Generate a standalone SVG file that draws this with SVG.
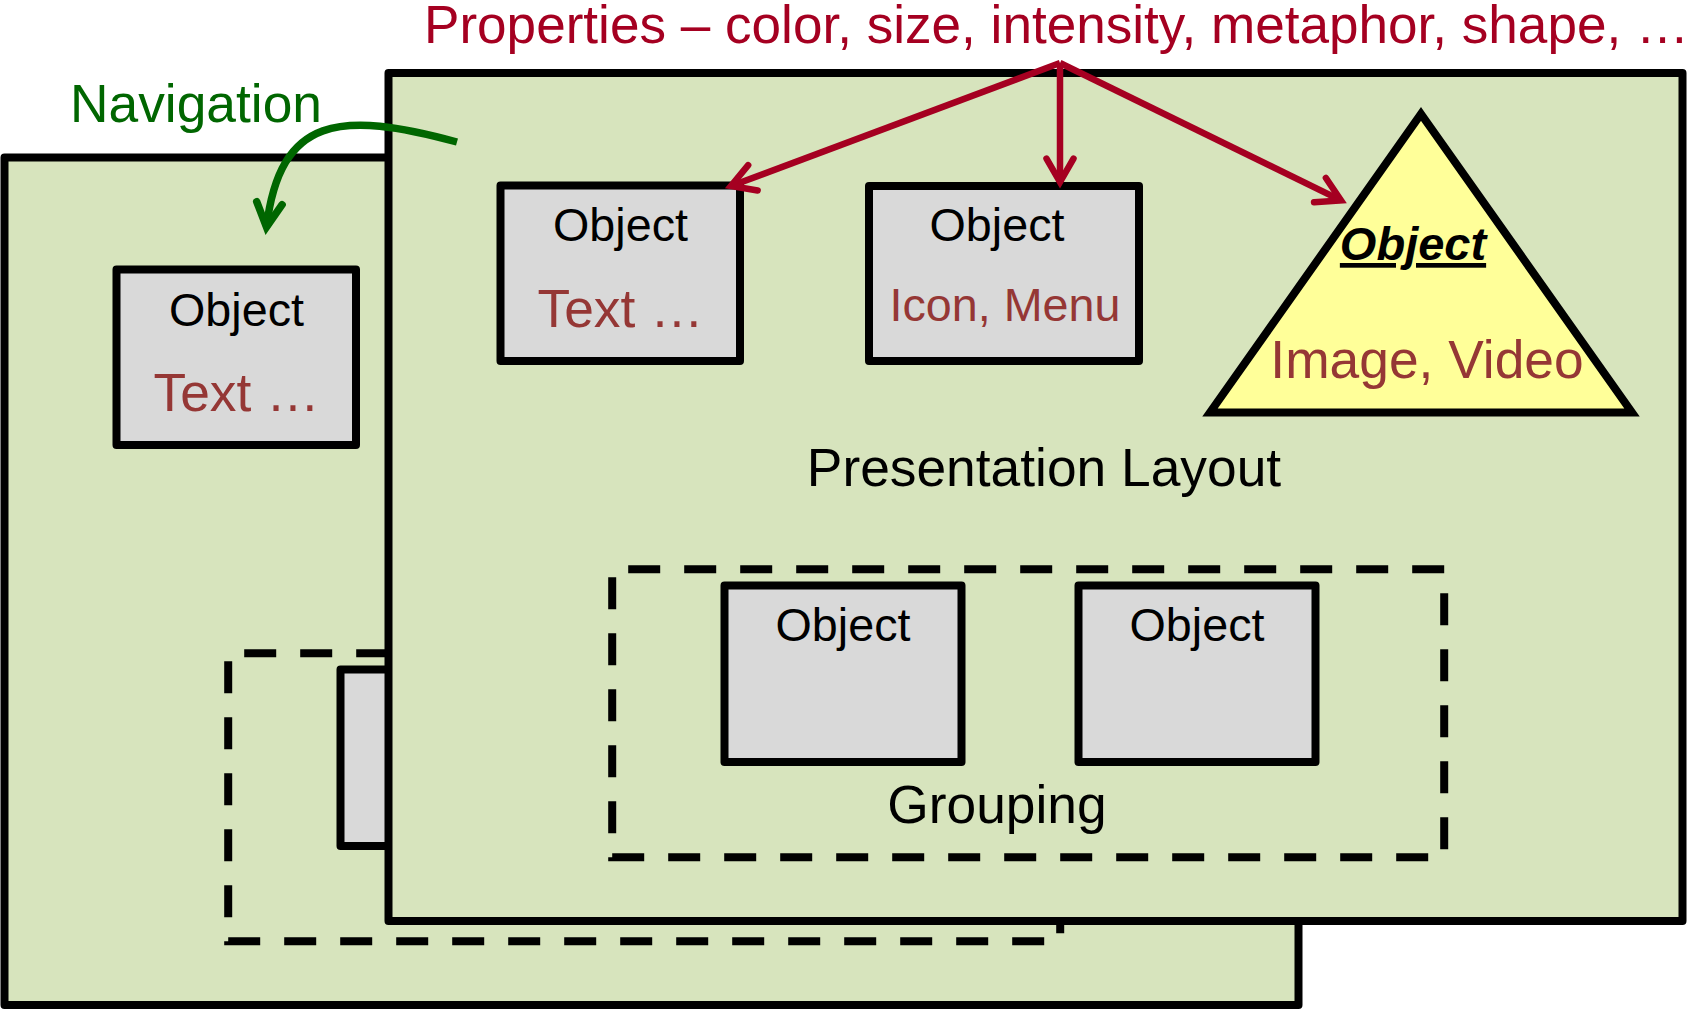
<svg xmlns="http://www.w3.org/2000/svg" width="1689" height="1009" viewBox="0 0 1689 1009">
<defs>
<style>
text{font-family:"Liberation Sans",Arial,sans-serif;}
.page{fill:#D7E4BD;stroke:#000;stroke-width:8;stroke-linejoin:round;}
.box{fill:#D9D9D9;stroke:#000;stroke-width:8;stroke-linejoin:round;}
.dash{fill:none;stroke:#000;stroke-width:8;stroke-dasharray:32 24;stroke-dashoffset:40;}
.obj{font-size:46.67px;fill:#000;text-anchor:middle;}
.sub{font-size:53.33px;fill:#953735;text-anchor:middle;}
.sub2{font-size:46.67px;fill:#953735;text-anchor:middle;}
.lbl{font-size:53.33px;fill:#000;text-anchor:middle;}
.red{fill:none;stroke:#A50021;stroke-width:6.5;}
.grn{fill:none;stroke:#006600;stroke-width:7.5;}
</style>
<marker id="ahRed" markerUnits="userSpaceOnUse" viewBox="-40 -25 50 50" markerWidth="50" markerHeight="50" refX="0" refY="0" orient="auto">
<path d="M-23.4,-13.5 L0,0 L-23.4,13.5" fill="none" stroke="#A50021" stroke-width="6.5" stroke-linecap="round" stroke-linejoin="miter"/>
</marker>
<marker id="ahGrn" markerUnits="userSpaceOnUse" viewBox="-40 -25 50 50" markerWidth="50" markerHeight="50" refX="0" refY="0" orient="auto">
<path d="M-24,-12.8 L0,0 L-24,12.8" fill="none" stroke="#006600" stroke-width="7.5" stroke-linecap="round" stroke-linejoin="miter"/>
</marker>
</defs>
<rect width="1689" height="1009" fill="#fff"/>

<g id="title">
<text x="424" y="43" style="font-size:53.1px;fill:#A50021;">Properties – color, size, intensity, metaphor, shape, …</text>
</g>
<g id="nav-label">
<text x="70" y="122" style="font-size:53.33px;fill:#006600;">Navigation</text>
</g>

<g id="back-page">
<rect class="page" x="4.5" y="157.5" width="1294" height="847.5"/>
<g id="back-object">
<rect class="box" x="116.5" y="269.5" width="239.5" height="175.5"/>
<text class="obj" x="236.5" y="325.5">Object</text>
<text class="sub" x="236.5" y="411">Text …</text>
</g>
<rect id="back-grouped-object" class="box" x="340.5" y="669.5" width="237" height="176.5"/>
<rect id="back-grouping" class="dash" x="228.2" y="653.2" width="832" height="288"/>
</g>

<g id="front-page">
<rect class="page" x="388.5" y="73" width="1294" height="848"/>
<text class="lbl" x="1044" y="485.5">Presentation Layout</text>
</g>

<g id="object-text">
<rect class="box" x="500.5" y="185.5" width="239.5" height="175.5"/>
<text class="obj" x="620.5" y="240.5">Object</text>
<text class="sub" x="620.5" y="326.5">Text …</text>
</g>

<g id="object-icon">
<rect class="box" x="869" y="186" width="270" height="175"/>
<text class="obj" x="997" y="241">Object</text>
<text class="sub2" x="1005" y="321">Icon, Menu</text>
</g>

<g id="object-image">
<polygon points="1421,114 1632,412.5 1210,412.5" fill="#FFFF99" stroke="#000" stroke-width="8" stroke-linejoin="miter"/>
<text x="1413" y="260" style="font-size:47px;font-weight:bold;font-style:italic;text-decoration:underline;text-anchor:middle;fill:#000;">Object</text>
<text class="sub" x="1427" y="378">Image, Video</text>
</g>

<g id="grouping">
<rect class="dash" x="612.2" y="569.2" width="832" height="288"/>
<text class="lbl" x="997" y="822.5">Grouping</text>
</g>
<g id="group-object-a">
<rect class="box" x="724.5" y="585.5" width="237" height="176.5"/>
<text class="obj" x="843" y="641">Object</text>
</g>
<g id="group-object-b">
<rect class="box" x="1078.5" y="585.5" width="237" height="176.5"/>
<text class="obj" x="1197" y="641">Object</text>
</g>

<g id="connectors">
<path class="grn" d="M457,142 C340,110 280,116 266.5,227" marker-end="url(#ahGrn)"/>
<line class="red" x1="1060" y1="63" x2="731" y2="186" marker-end="url(#ahRed)"/>
<line class="red" x1="1060" y1="63" x2="1060" y2="182" marker-end="url(#ahRed)"/>
<line class="red" x1="1060" y1="63" x2="1341" y2="200.4" marker-end="url(#ahRed)"/>
</g>
</svg>
